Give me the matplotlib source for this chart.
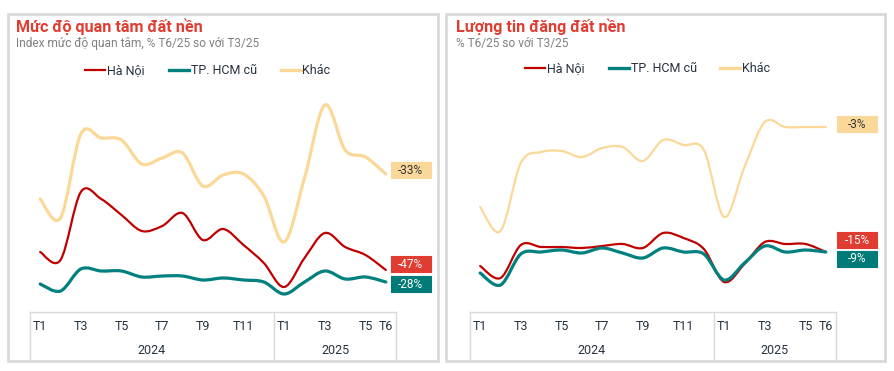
#importing libraries
import numpy as np
import matplotlib
matplotlib.use('Agg')
import matplotlib.pyplot as plt
from matplotlib.path import Path
from matplotlib.patches import PathPatch, Rectangle
from matplotlib.lines import Line2D
import matplotlib.transforms as mtrans

plt.rcParams['font.family'] = ['Roboto', 'DejaVu Sans']

#data - index values (hidden y axis)
tick_labels = ['T1', '', 'T3', '', 'T5', '', 'T7', '', 'T9', '', 'T11', '',
               'T1', '', 'T3', '', 'T5', 'T6']
years = ['2024', '2025']
series_names = ['Hà Nội', 'TP. HCM cũ', 'Khác']

#panel 1: muc do quan tam
quan_tam_hn = [68, 60, 128, 121, 105, 89, 94, 107, 80, 91, 75, 57, 33, 62, 87, 73, 65, 50]
quan_tam_hcm = [36, 29, 51, 49, 49, 43, 44, 44, 40, 42, 40, 38, 26, 38, 49, 41, 43, 38]
quan_tam_khac = [121, 102, 186, 182, 180, 156, 162, 167, 134, 145, 146, 124, 78, 142, 215, 170, 163, 146]
quan_tam_pct = ['-47%', '-28%', '-33%']

#panel 2: luong tin dang
tin_dang_hn = [34, 22, 55, 53, 53, 52, 54, 56, 52, 67, 62, 51, 18, 36, 58, 56, 56, 48]
tin_dang_hcm = [27, 15, 46, 48, 50, 47, 52, 47, 42, 52, 48, 46, 20, 37, 54, 48, 50, 48]
tin_dang_khac = [93, 69, 137, 148, 149, 143, 152, 153, 139, 160, 155, 150, 83, 133, 178, 173, 173, 173]
tin_dang_pct = ['-15%', '-9%', '-3%']

#styles
colors = ['#c00000', '#00807e', '#fbd897']
box_colors = ['#e03c31', '#007b78', '#fad89a']
box_text = ['white', 'white', '#333333']
txt_col = '#26323f'
title_col = '#e03c31'
grid_col = '#d9d9d9'

W, H = 895, 371
fig = plt.figure(figsize=(W / 100, H / 100), dpi=100)


def fx(x):
    return x / W


def fy(y):
    return 1 - y / H


def smooth_path(y):
    #catmull-rom style bezier, like excel smoothed lines
    p = np.column_stack([np.arange(len(y)), np.array(y, dtype=float)])
    verts = [p[0]]
    codes = [Path.MOVETO]
    n = len(p)
    for i in range(n - 1):
        p0 = p[max(i - 1, 0)]
        p1 = p[i]
        p2 = p[i + 1]
        p3 = p[min(i + 2, n - 1)]
        verts += [p1 + (p2 - p0) / 6, p2 - (p3 - p1) / 6, p2]
        codes += [Path.CURVE4] * 3
    return Path(verts, codes)


def draw_panel(left_px, ylim, series, widths, pct, label_off, title, subtitle, leg_y):
    bottom_px, top_px = 312, 90
    ax = fig.add_axes([fx(left_px), fy(bottom_px), fx(366), (bottom_px - top_px) / H])
    ax.set_xlim(-0.5, 17.5)
    ax.set_ylim(*ylim)
    ax.axis('off')
    for s, c, lw in zip(series, colors, widths):
        ax.add_patch(PathPatch(smooth_path(s), fill=False, edgecolor=c, lw=lw,
                               capstyle='round', joinstyle='round'))
    #end labels
    bt = mtrans.blended_transform_factory(ax.transAxes, ax.transData)
    bx = 1.003 if left_px > 400 else 0.986
    for s, lab, fc, tc, off in zip(series, pct, box_colors, box_text, label_off):
        yc = s[-1] + off
        ax.add_patch(Rectangle((bx, yc - 8), 0.109, 16, transform=bt, facecolor=fc,
                               edgecolor=fc, lw=0.8, joinstyle='round', clip_on=False))
        ax.text(bx + 0.0545, yc, lab, transform=bt, ha='center', va='center',
                fontsize=8.5, color=tc)
    #x axis box
    xt = ax.get_xaxis_transform()
    low = -48 / 222
    ax.plot([-0.5, 17.5], [0, 0], transform=xt, color=grid_col, lw=1, clip_on=False)
    for xv in [-0.5, 11.5, 17.5]:
        ax.plot([xv, xv], [0, low], transform=xt, color=grid_col, lw=1, clip_on=False)
    for i, t in enumerate(tick_labels):
        if t:
            ax.text(i, -15 / 222, t, transform=xt, ha='center', va='center',
                    fontsize=9, color=txt_col)
    ax.text(5.5, -38 / 222, years[0], transform=xt, ha='center', va='center', fontsize=9, color=txt_col)
    ax.text(14.5, -38 / 222, years[1], transform=xt, ha='center', va='center', fontsize=9, color=txt_col)
    #titles
    fig.text(fx(left_px - 14), fy(32), title, fontsize=11.6, fontweight='bold', color=title_col, va='baseline')
    fig.text(fx(left_px - 14), fy(47.5), subtitle, fontsize=8.6, color='#808080', va='baseline')
    #legend
    handles = [Line2D([], [], color=c, lw=lw) for c, lw in zip(colors, [1.6, 2.4, 2.4])]
    ax.legend(handles, series_names, loc='center', bbox_to_anchor=(fx(left_px + 178), fy(leg_y)),
              bbox_transform=fig.transFigure, ncol=3, frameon=False, fontsize=9,
              handlelength=1.6, handletextpad=0.15, columnspacing=1.9, labelcolor=txt_col)
    return ax


draw_panel(30, (8, 230), [quan_tam_hn, quan_tam_hcm, quan_tam_khac], [1.6, 2.3, 2.3],
           quan_tam_pct, [6, -2, 4], 'Mức độ quan tâm đất nền',
           'Index mức độ quan tâm, % T6/25 so với T3/25', 71)
draw_panel(470, (-12, 210), [tin_dang_hn, tin_dang_hcm, tin_dang_khac], [1.6, 2.3, 1.6],
           tin_dang_pct, [12, -7, 3], 'Lượng tin đăng đất nền',
           '% T6/25 so với T3/25', 69)

#panel borders
for x0, x1 in [(8, 438), (446, 885)]:
    fig.add_artist(Rectangle((fx(x0), fy(361)), fx(x1 - x0), (361 - 14) / H, transform=fig.transFigure,
                             fill=False, edgecolor=grid_col, lw=2))

plt.savefig('out.png', dpi=100, facecolor='white')
